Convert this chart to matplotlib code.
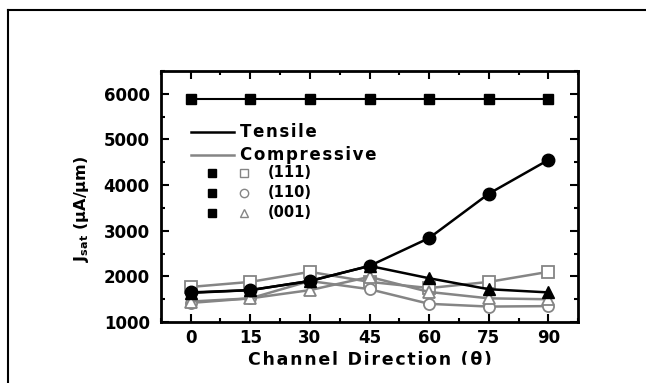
import matplotlib.pyplot as plt
from matplotlib.lines import Line2D
from matplotlib.patches import Rectangle
from matplotlib.ticker import MultipleLocator

# channel direction (deg)
angles = [0, 15, 30, 45, 60, 75, 90]

# tensile (black, filled)
tens_111 = [5890, 5890, 5890, 5890, 5890, 5890, 5890]
tens_110 = [1650, 1700, 1900, 2230, 2840, 3810, 4550]
tens_001 = [1640, 1700, 1900, 2230, 1960, 1720, 1650]

# compressive (gray, open)
comp_111 = [1770, 1880, 2100, 1880, 1745, 1880, 2100]
comp_110 = [1420, 1520, 1900, 1720, 1400, 1340, 1350]
comp_001 = [1450, 1520, 1700, 1990, 1660, 1520, 1500]

x_ticks = [0, 15, 30, 45, 60, 75, 90]
y_ticks = [1000, 2000, 3000, 4000, 5000, 6000]
legend_rows = ["(111)", "(110)", "(001)"]

GRAY = "#858585"
plt.rcParams['font.family'] = ['DejaVu Sans']
plt.rcParams['font.weight'] = 'bold'


def spaced(s):
    # the source uses loose letter spacing; fake it with hair spaces
    return "\u200a".join(s)


fig = plt.figure(figsize=(6.46, 3.83), dpi=100)
ax = fig.add_axes([0.249, 0.159, 0.646, 0.656])

# compressive first so the black lines sit on top
for vals, mk in [(comp_111, 's'), (comp_110, 'o'), (comp_001, '^')]:
    ax.plot(angles, vals, color=GRAY, lw=1.8, marker=mk, ms=8,
            mfc='white', mec=GRAY, mew=1.3, zorder=2)

ax.plot(angles, tens_111, color='black', lw=1.5, marker='s', ms=7.5, zorder=3)
ax.plot(angles, tens_001, color='black', lw=1.8, marker='^', ms=9, zorder=3)
ax.plot(angles, tens_110, color='black', lw=1.8, marker='o', ms=9, zorder=4)

ax.set_xlim(-7.5, 97.5)
ax.set_ylim(1000, 6500)
ax.set_xticks(x_ticks)
ax.set_yticks(y_ticks)
ax.xaxis.set_minor_locator(MultipleLocator(7.5))
ax.yaxis.set_minor_locator(MultipleLocator(500))
ax.tick_params(which='both', direction='in', top=True, right=True,
               labelsize=12, width=1.5)
ax.tick_params(which='major', length=6)
ax.tick_params(which='minor', length=3)
ax.tick_params(axis='y', pad=8)
ax.tick_params(axis='x', pad=5)
for s in ax.spines.values():
    s.set_linewidth(2)

ax.set_xlabel(spaced("Channel Direction (\u03b8)"), fontsize=12.5, fontweight='bold', labelpad=3)
ax.set_ylabel("J$_{\\mathbf{sat}}$ (\u03bcA/\u03bcm)", fontsize=11.5, fontweight='bold')
ax.yaxis.set_label_coords(-0.168, 0.45)

# hand-made legend in data coords
ax.plot([0, 10.8], [5170, 5170], color='black', lw=1.8)
ax.text(12.3, 5170, spaced("Tensile"), fontsize=12, va='center', fontweight='bold')
ax.plot([0, 10.8], [4660, 4660], color=GRAY, lw=1.8)
ax.text(12.3, 4660, spaced("Compressive"), fontsize=12, va='center', fontweight='bold')
row_y = [4270, 3830, 3390]
for yy, lab, mk in zip(row_y, legend_rows, ['s', 'o', '^']):
    ax.plot([5.3], [yy], marker='s', color='black', ms=6, ls='none')
    ax.plot([13.4], [yy], marker=mk, color=GRAY, mfc='white', ms=6, mew=1, ls='none')
    ax.text(19.5, yy, lab, fontsize=10.5, va='center', fontweight='bold')

# outer frame (left and top edges only)
fig.add_artist(Line2D([0.013, 0.013], [0, 0.974], color='black', lw=1.5))
fig.add_artist(Line2D([0.013, 1.0], [0.974, 0.974], color='black', lw=1.5))
# bottom of the label is cut off in the source
fig.add_artist(Rectangle((0.02, 0), 0.98, 0.047, color='white', zorder=10))

fig.savefig("out.png", dpi=100)
